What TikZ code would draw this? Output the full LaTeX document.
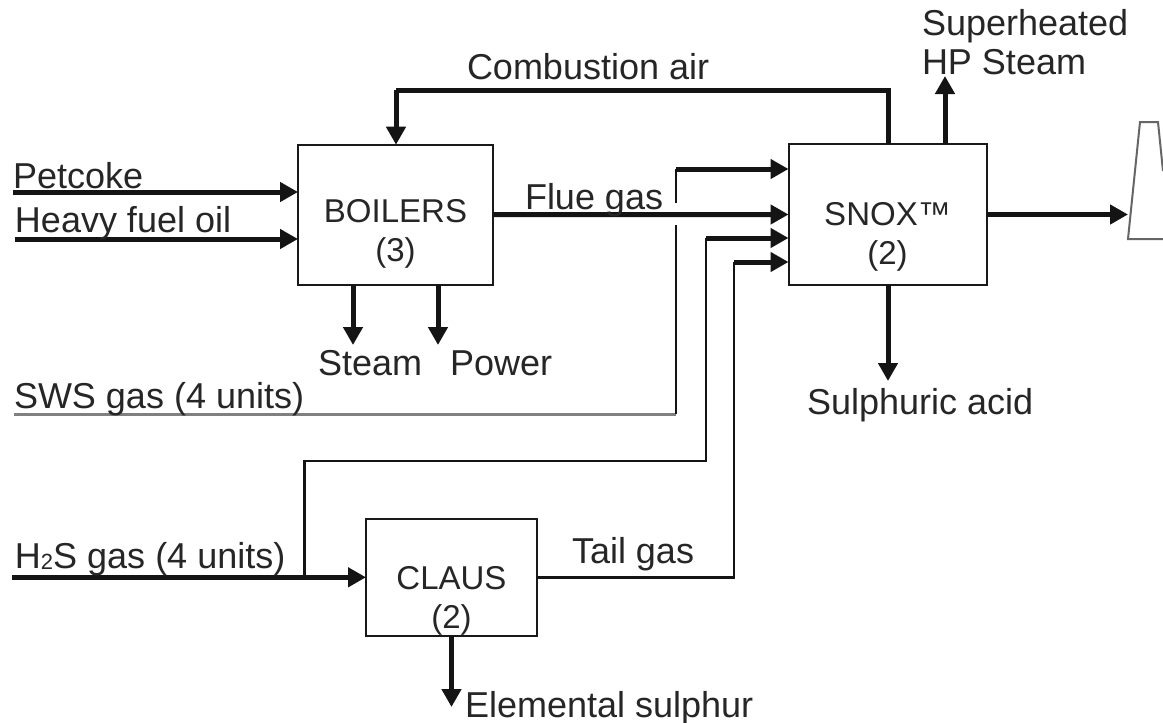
\documentclass[tikz,border=0pt]{standalone}
\usepackage{fontspec}
\setmainfont{Liberation Sans}
\usetikzlibrary{arrows.meta}
\tikzset{
  x=1pt,y=-1pt,
  unitbox/.style={draw=black!90,line width=2pt,fill=none,inner sep=0pt,outer sep=0pt,align=center,text=black!85,font=\fontsize{33}{39}\selectfont},
  lab/.style={anchor=base west,inner sep=0pt,outer sep=0pt,text=black!85,font=\fontsize{36}{40}\selectfont},
  thickflow/.style={line width=5pt,draw=black!92,-{Triangle[length=18pt,width=19pt]}},
  thickline/.style={line width=5pt,draw=black!92},
  thinline/.style={line width=2.6pt,draw=black!92},
  greyline/.style={line width=3pt,draw=black!50},
  stackline/.style={line width=2pt,draw=black!60}
}
\begin{document}
\begin{tikzpicture}
\useasboundingbox[fill=white] (0,0) rectangle (1163,723);
% units
\node[unitbox,minimum width=195pt,minimum height=140pt] (boil) at (395.5,214.7) {\rule{0pt}{62pt}BOILERS\\(3)};
\node[unitbox,minimum width=198pt,minimum height=141pt] (snox) at (887.5,214.5) {\rule{0pt}{68pt}SNOX™\\(2)};
\node[unitbox,minimum width=171pt,minimum height=117pt] (claus) at (451.5,577.3) {\rule{0pt}{70pt}CLAUS\\(2)};
% free ends and routing points
\coordinate (petS) at (13,192);
\coordinate (oilS) at (15,239);
\coordinate (swsS) at (14,414);
\coordinate (hsS) at (12,577.3);
\coordinate (steamE) at (353,345);
\coordinate (powerE) at (438,345);
\coordinate (airTop) at (888,90);
\coordinate (airL) at (396,90);
\coordinate (hpE) at (945,76);
\coordinate (acidE) at (888,381);
\coordinate (sulE) at (451.5,707);
\coordinate (stackIn) at (1128,214.5);
\coordinate (swsC) at (676,414);
\coordinate (swsGapB) at (676,225);
\coordinate (swsGapT) at (676,203);
\coordinate (swsT) at (676,169);
\coordinate (hsJ) at (304.5,577.3);
\coordinate (hsTL) at (304.5,461);
\coordinate (hsTR) at (706,461);
\coordinate (hsT) at (706,238);
\coordinate (tailC) at (734,577.3);
\coordinate (tailT) at (734,262);
% connectors
\draw[thickflow] (petS) -- (petS -| boil.west);
\draw[thickflow] (oilS) -- (oilS -| boil.west);
\draw[thickflow] (boil.east) -- (snox.west);
\draw[thickflow] (boil.south -| steamE) -- (steamE);
\draw[thickflow] (boil.south -| powerE) -- (powerE);
\draw[thickline] (snox.north -| airTop) -- (airTop) -- (airL);
\draw[thickflow] (airL) -- (airL |- boil.north);
\draw[thickflow] (snox.north -| hpE) -- (hpE);
\draw[thickflow] (snox.south -| acidE) -- (acidE);
\draw[thickflow] (snox.east) -- (stackIn);
\draw[greyline] (swsS) -- (swsC);
\draw[thinline] (swsC) -- (swsGapB);
\draw[thinline] (swsGapT) -- (swsT);
\draw[thickflow] (swsT) -- (swsT -| snox.west);
\draw[thickflow] (hsS) -- (claus.west);
\draw[thinline] (hsJ) -- (hsTL) -- (hsTR) -- (hsT);
\draw[thickflow] (hsT) -- (hsT -| snox.west);
\draw[thinline] (claus.east) -- (tailC) -- (tailT);
\draw[thickflow] (tailT) -- (tailT -| snox.west);
\draw[thickflow] (claus.south) -- (sulE);
% stack
\draw[stackline] (1163,239) -- (1128,239) -- (1140,122) -- (1158,122) -- (1163,171);
% labels
\node[lab] (tPet) at (13,188) {Petcoke};
\node[lab] (tOil) at (15,232) {Heavy fuel oil};
\node[lab] (tAir) at (467,79) {Combustion air};
\node[lab] (tSup) at (922,35) {Superheated};
\node[lab] (tHP) at (922,74) {HP Steam};
\node[lab] (tFlue) at (525,209) {Flue gas};
\node[lab] (tSteam) at (318,375) {Steam};
\node[lab] (tPower) at (450,375) {Power};
\node[lab] (tSWS) at (14,408) {SWS gas (4 units)};
\node[lab] (tHS) at (15,568) {H\raisebox{-1pt}{\fontsize{22}{24}\selectfont 2}S gas (4 units)};
\node[lab] (tTail) at (572,563) {Tail gas};
\node[lab] (tSul) at (465,717) {Elemental sulphur};
\node[lab] (tAcid) at (807,414) {Sulphuric acid};
\end{tikzpicture}
\end{document}
